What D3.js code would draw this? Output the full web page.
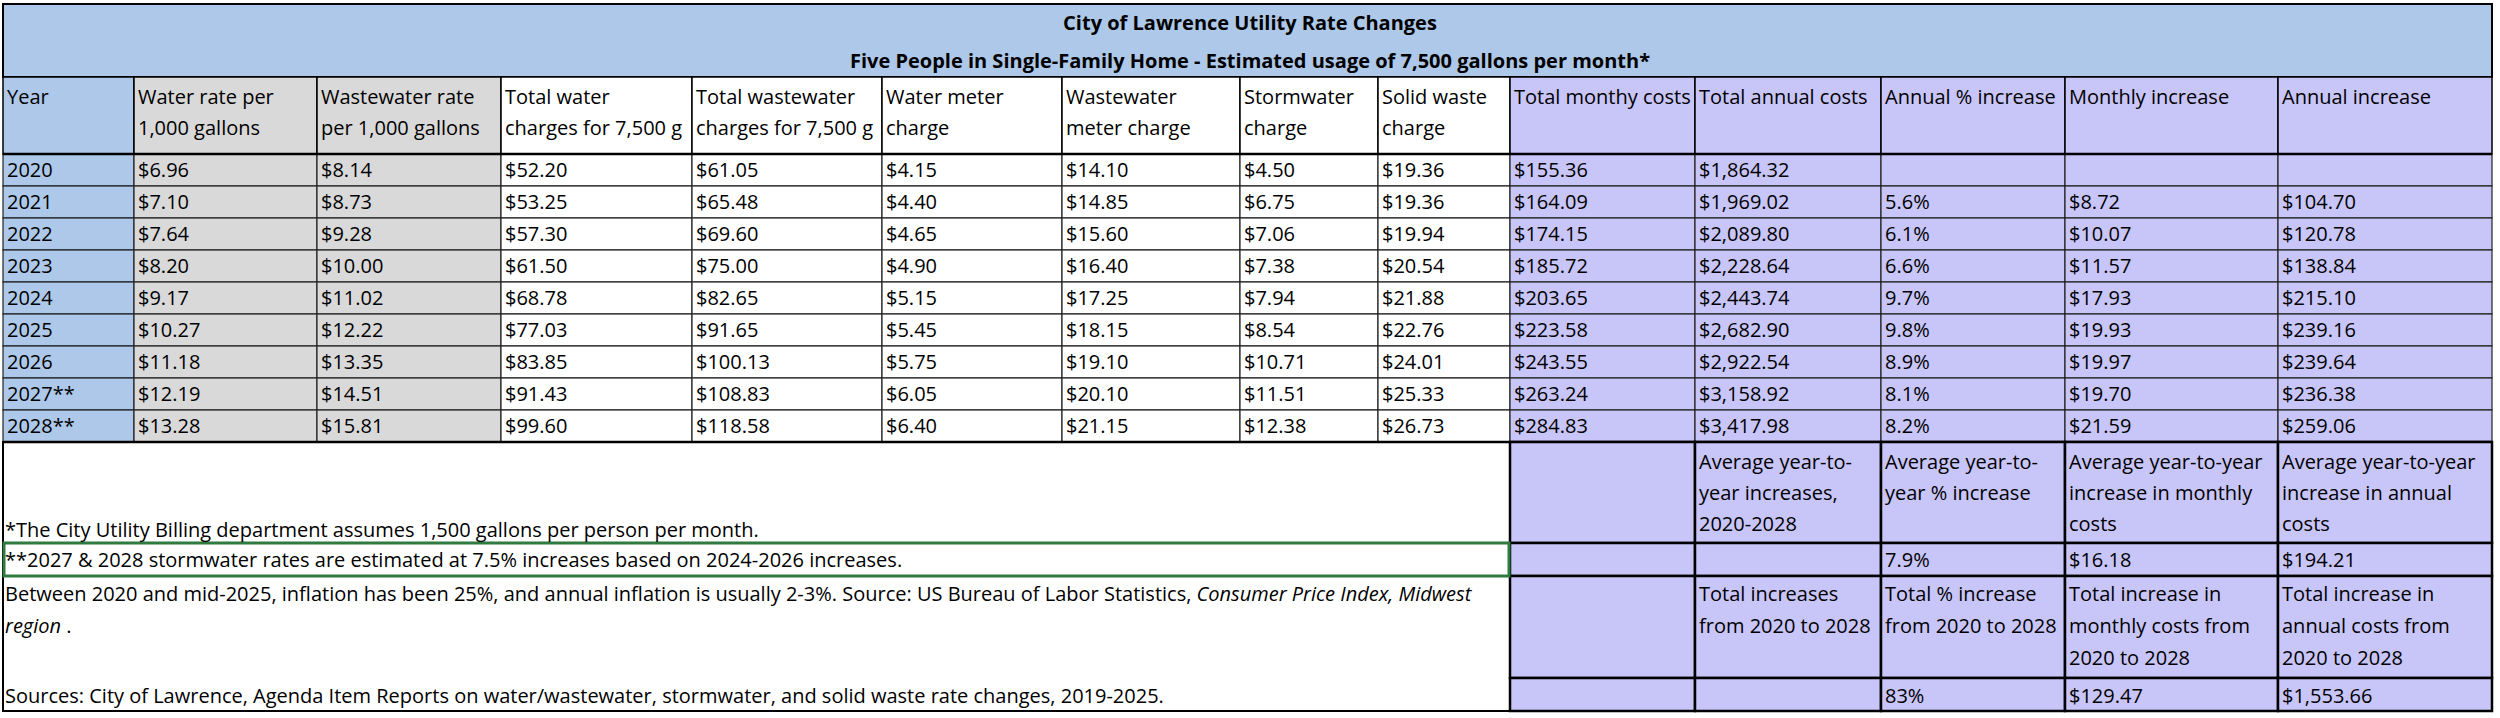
<!DOCTYPE html>
<html><head><meta charset="utf-8">
<script src="https://cdn.jsdelivr.net/npm/d3@7"></script>
<style>body{margin:0;background:#fff}text{font-family:"Liberation Sans Narrow","Open Sans",sans-serif;font-size:20px;fill:#000}</style>
</head><body><svg id="c" width="2500" height="718"></svg>
<script>
const title1 = "City of Lawrence Utility Rate Changes";
const title2 = "Five People in Single-Family Home - Estimated usage of 7,500 gallons per month*";
const headers = [["Year"],["Water rate per","1,000 gallons"],["Wastewater rate","per 1,000 gallons"],["Total water","charges for 7,500 g"],["Total wastewater","charges for 7,500 g"],["Water meter","charge"],["Wastewater","meter charge"],["Stormwater","charge"],["Solid waste","charge"],["Total monthy costs"],["Total annual costs"],["Annual % increase"],["Monthly increase"],["Annual increase"]];
const years = ["2020","2021","2022","2023","2024","2025","2026","2027**","2028**"];
const waterRate = ["$6.96","$7.10","$7.64","$8.20","$9.17","$10.27","$11.18","$12.19","$13.28"];
const wasteRate = ["$8.14","$8.73","$9.28","$10.00","$11.02","$12.22","$13.35","$14.51","$15.81"];
const totalWater = ["$52.20","$53.25","$57.30","$61.50","$68.78","$77.03","$83.85","$91.43","$99.60"];
const totalWaste = ["$61.05","$65.48","$69.60","$75.00","$82.65","$91.65","$100.13","$108.83","$118.58"];
const waterMeter = ["$4.15","$4.40","$4.65","$4.90","$5.15","$5.45","$5.75","$6.05","$6.40"];
const wasteMeter = ["$14.10","$14.85","$15.60","$16.40","$17.25","$18.15","$19.10","$20.10","$21.15"];
const storm = ["$4.50","$6.75","$7.06","$7.38","$7.94","$8.54","$10.71","$11.51","$12.38"];
const solid = ["$19.36","$19.36","$19.94","$20.54","$21.88","$22.76","$24.01","$25.33","$26.73"];
const monthly = ["$155.36","$164.09","$174.15","$185.72","$203.65","$223.58","$243.55","$263.24","$284.83"];
const annual = ["$1,864.32","$1,969.02","$2,089.80","$2,228.64","$2,443.74","$2,682.90","$2,922.54","$3,158.92","$3,417.98"];
const pctInc = ["","5.6%","6.1%","6.6%","9.7%","9.8%","8.9%","8.1%","8.2%"];
const monInc = ["","$8.72","$10.07","$11.57","$17.93","$19.93","$19.97","$19.70","$21.59"];
const annInc = ["","$104.70","$120.78","$138.84","$215.10","$239.16","$239.64","$236.38","$259.06"];
const avgHead = [["Average year-to-","year increases,","2020-2028"],["Average year-to-","year % increase"],["Average year-to-year","increase in monthly","costs"],["Average year-to-year","increase in annual","costs"]];
const avgVals = ["","7.9%","$16.18","$194.21"];
const totHead = [["Total increases","from 2020 to 2028"],["Total % increase","from 2020 to 2028"],["Total increase in","monthly costs from","2020 to 2028"],["Total increase in","annual costs from","2020 to 2028"]];
const totVals = ["","83%","$129.47","$1,553.66"];
const note1 = "*The City Utility Billing department assumes 1,500 gallons per person per month.";
const note2 = "**2027 & 2028 stormwater rates are estimated at 7.5% increases based on 2024-2026 increases.";
const note3a = "Between 2020 and mid-2025, inflation has been 25%, and annual inflation is usually 2-3%. Source: US Bureau of Labor Statistics, ";
const note3b = "Consumer Price Index, Midwest";
const note3c = "region";
const note4 = "Sources: City of Lawrence, Agenda Item Reports on water/wastewater, stormwater, and solid waste rate changes, 2019-2025.";

const cols = [years,waterRate,wasteRate,totalWater,totalWaste,waterMeter,wasteMeter,storm,solid,monthly,annual,pctInc,monInc,annInc];
const edges = [3,134,317,501,692,882,1062,1240,1378,1510,1695,1881,2065,2278,2492];
const fills = ["#aec8e9","#d9d9d9","#d9d9d9","#fff","#fff","#fff","#fff","#fff","#fff","#c8c5f9","#c8c5f9","#c8c5f9","#c8c5f9","#c8c5f9"];
const svg = d3.select("#c");
const x = i => edges[i];
const y = d3.scaleLinear().domain([0,9]).range([154,442]);
const rowH = y(1)-y(0);
// title band
svg.append("rect").attr("x",3).attr("y",4).attr("width",2489).attr("height",73).attr("fill","#aec8e9").attr("stroke","#000").attr("stroke-width",2);
svg.append("text").attr("x",1250).attr("y",30).attr("text-anchor","middle").attr("font-weight","bold").text(title1);
svg.append("text").attr("x",1250).attr("y",68).attr("text-anchor","middle").attr("font-weight","bold").text(title2);
// header
headers.forEach((h,i)=>{
  svg.append("rect").attr("x",x(i)).attr("y",77).attr("width",x(i+1)-x(i)).attr("height",77).attr("fill",fills[i]).attr("stroke","#000").attr("stroke-width",1.5);
  h.forEach((t,j)=>svg.append("text").attr("x",x(i)+4).attr("y",104+j*31).text(t));
});
// data
cols.forEach((col,i)=>{
  col.forEach((v,r)=>{
    svg.append("rect").attr("x",x(i)).attr("y",y(r)).attr("width",x(i+1)-x(i)).attr("height",rowH).attr("fill",fills[i]).attr("stroke","#222").attr("stroke-width",1.2);
    svg.append("text").attr("x",x(i)+4).attr("y",y(r)+rowH/2+7).text(v);
  });
});
svg.append("line").attr("x1",3).attr("x2",2492).attr("y1",154).attr("y2",154).attr("stroke","#000").attr("stroke-width",2.5);
svg.append("line").attr("x1",3).attr("x2",2492).attr("y1",442).attr("y2",442).attr("stroke","#000").attr("stroke-width",2.5);
// footer right
const fy = [442,543,576,678,711];
for(let r=0;r<4;r++){
  for(let i=9;i<14;i++){
    svg.append("rect").attr("x",x(i)).attr("y",fy[r]).attr("width",x(i+1)-x(i)).attr("height",fy[r+1]-fy[r]).attr("fill","#c8c5f9").attr("stroke","#000").attr("stroke-width",2.5);
  }
}
avgHead.forEach((h,k)=>h.forEach((t,j)=>svg.append("text").attr("x",x(10+k)+4).attr("y",469+j*31).text(t)));
avgVals.forEach((t,k)=>svg.append("text").attr("x",x(10+k)+4).attr("y",567).text(t));
totHead.forEach((h,k)=>h.forEach((t,j)=>svg.append("text").attr("x",x(10+k)+4).attr("y",601+j*32).text(t)));
totVals.forEach((t,k)=>svg.append("text").attr("x",x(10+k)+4).attr("y",703).text(t));
// footer left
svg.append("rect").attr("x",3).attr("y",442).attr("width",1507).attr("height",269).attr("fill","none").attr("stroke","#000").attr("stroke-width",2);
svg.append("rect").attr("x",4).attr("y",543).attr("width",1505).attr("height",33).attr("fill","none").attr("stroke","#2f7a3f").attr("stroke-width",3);
svg.append("text").attr("x",5).attr("y",537).text(note1);
svg.append("text").attr("x",5).attr("y",567).text(note2);
const t3 = svg.append("text").attr("x",5).attr("y",601);
t3.append("tspan").text(note3a);
t3.append("tspan").attr("font-style","italic").text(note3b);
const t3b = svg.append("text").attr("x",5).attr("y",633);
t3b.append("tspan").attr("font-style","italic").text(note3c);
t3b.append("tspan").text(" .");
svg.append("text").attr("x",5).attr("y",703).text(note4);
</script></body></html>
